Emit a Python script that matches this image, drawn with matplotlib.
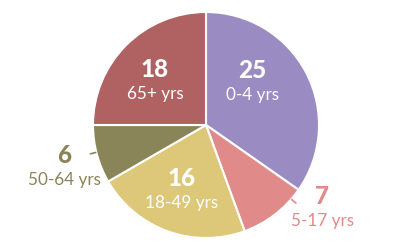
import numpy as np
import matplotlib
matplotlib.use("Agg")
import matplotlib.pyplot as plt

values = [25, 7, 16, 6, 18]
labels = ["0-4 yrs", "5-17 yrs", "18-49 yrs", "50-64 yrs", "65+ yrs"]
colors = ["#9a8bc3", "#e08b8a", "#dcc878", "#8a8459", "#b06161"]

# layout: inside (True) or outside label, angle offset (deg), radius factor
inside = [True, False, True, False, True]
label_angle_off = [15, 16.5, 0, 2, 5]
label_r = [0.555, 1.27, 0.625, 1.31, 0.59]
leader_angle_off = [0, 11.5, 0, -1, 0]

fig = plt.figure(figsize=(4, 2.5), dpi=100)
ax = fig.add_axes([0, 0, 1, 1])

cx, cy, R = 206, 125, 113
ax.pie(values, colors=colors, startangle=90, counterclock=False,
       center=(cx, cy), radius=R, frame=True,
       wedgeprops=dict(edgecolor="white", linewidth=1.5))
ax.set_xlim(0, 400)
ax.set_ylim(0, 250)
ax.set_aspect("equal")
ax.axis("off")

total = sum(values)
cum = np.cumsum([0] + values)
for i, v in enumerate(values):
    mid = 90 - 360 * (cum[i] + v / 2) / total
    a = np.deg2rad(mid + label_angle_off[i])
    x = cx + label_r[i] * R * np.cos(a)
    y = cy + label_r[i] * R * np.sin(a)
    col = "white" if inside[i] else colors[i]
    ax.text(x, y + 12.5, str(v), ha="center", va="center", color=col,
            fontsize=17.5, fontweight=900, family="Lato")
    ax.text(x, y - 12, labels[i], ha="center", va="center", color=col,
            fontsize=12.3, family="Lato")
    if not inside[i]:
        la = np.deg2rad(mid + leader_angle_off[i])
        ax.plot([cx + 1.0 * R * np.cos(la), cx + 1.06 * R * np.cos(la)],
                [cy + 1.0 * R * np.sin(la), cy + 1.06 * R * np.sin(la)],
                color=colors[i], lw=1.2, solid_capstyle="butt")

fig.savefig("out.png", dpi=100, facecolor="white")
